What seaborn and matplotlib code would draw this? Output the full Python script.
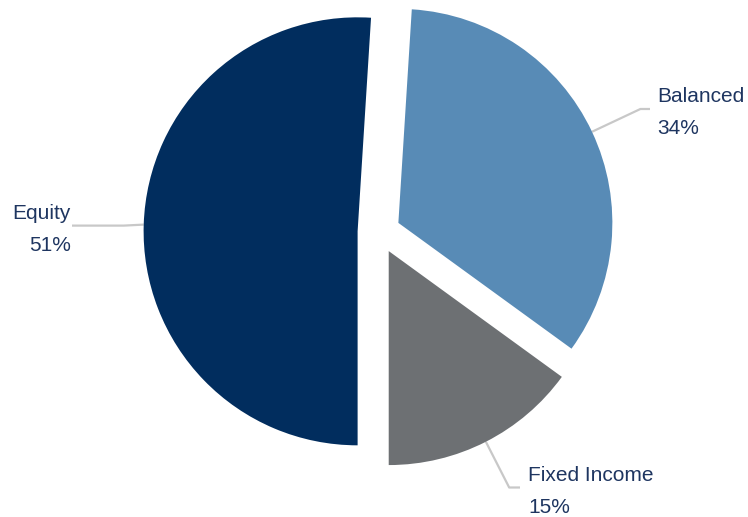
import numpy as np
import matplotlib
matplotlib.use("Agg")
import matplotlib.pyplot as plt
import seaborn as sns

categories = ["Balanced", "Fixed Income", "Equity"]
values = [34, 15, 51]
pct_labels = ["34%", "15%", "51%"]
colors = ["#588BB6", "#6D7073", "#012D5E"]

sns.set_theme(style="white")
plt.rcParams["font.family"] = ["Liberation Sans", "DejaVu Sans"]

W, H = 748, 517
fig = plt.figure(figsize=(W / 100, H / 100), dpi=100)
ax = fig.add_axes([0, 0, 1, 1])

R = 214
center = (379, H - 232)
gap = 0.1 * R  # explode distance in data units
wedges, _ = ax.pie(values, colors=colors, startangle=86.4, counterclock=False,
                   explode=[gap, gap, gap], radius=R, center=center,
                   wedgeprops=dict(linewidth=0), frame=True)
ax.set_xlim(0, W)
ax.set_ylim(0, H)
ax.set_aspect("equal")
ax.axis("off")

# label layout: (horizontal end x of connector, text x, alignment, elbow factor)
layout = {
    "Balanced": dict(hx=650, tx=657, ha="left", ef=1.25),
    "Fixed Income": dict(hx=520, tx=528, ha="left", ef=1.24),
    "Equity": dict(hx=72, tx=71, ha="right", ef=1.2),
}
text_color = "#1E3560"
line_color = "#C8C8C8"
for w, cat, pct in zip(wedges, categories, pct_labels):
    mid = np.deg2rad((w.theta1 + w.theta2) / 2)
    cx, cy = w.center
    sx, sy = cx + w.r * np.cos(mid), cy + w.r * np.sin(mid)
    L = layout[cat]
    ex, ey = cx + L["ef"] * w.r * np.cos(mid), cy + L["ef"] * w.r * np.sin(mid)
    if cat == "Equity":
        ex, ey = sx - 20, sy - 1
    ax.plot([sx, ex, L["hx"]], [sy, ey, ey], color=line_color, lw=1.6,
            solid_capstyle="butt", zorder=0)
    ax.text(L["tx"], ey + 12, cat, ha=L["ha"], va="center", fontsize=15,
            color=text_color)
    ax.text(L["tx"], ey - 20, pct, ha=L["ha"], va="center", fontsize=15,
            color=text_color)

fig.savefig("out.png", dpi=100, facecolor="white")
